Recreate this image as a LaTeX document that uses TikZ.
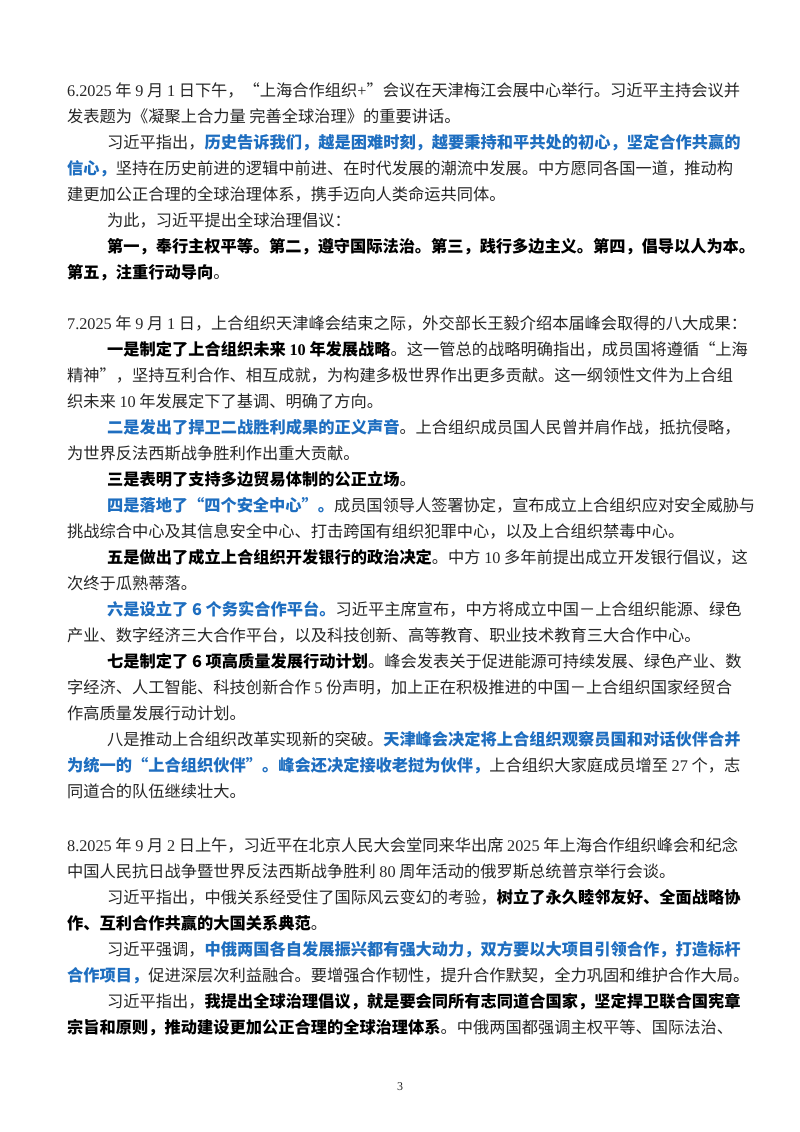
\documentclass[tikz,border=0pt]{standalone}
\usepackage{fontspec}
\setmainfont{Noto Sans CJK SC}
\newfontfamily\latn{Liberation Serif}
\definecolor{txt}{HTML}{262626}
\definecolor{hlblue}{HTML}{1E6EC0}
\newcommand\hb[1]{{\bfseries\color{hlblue}#1}}
\newcommand\kb[1]{{\bfseries\color{black}#1}}
\newcommand\nm[1]{{\latn #1}}
\tikzset{
  base/.style={anchor=base west, inner sep=0pt, font=\fontsize{16.3}{20}\selectfont, text=txt},
  full/.style={base, text width=688bp, align=justify},
  ind/.style={base, text width=648bp, align=justify},
  last/.style={base, align=left},
}
\begin{document}
\begin{tikzpicture}[x=1bp,y=-1bp]
\XeTeXlinebreaklocale "zh"
\XeTeXlinebreakskip=0pt plus 4pt minus 1pt
\useasboundingbox[fill=white] (0,0) rectangle (800,1132);
% section 6
\node[full] (a1) at (67,96) {\parfillskip=0pt \nm{6.2025} 年 \nm{9} 月 \nm{1} 日下午，“上海合作组织\nm{+}”会议在天津梅江会展中心举行。习近平主持会议并};
\node[last] (a2) at (67,122) {发表题为《凝聚上合力量\ 完善全球治理》的重要讲话。};
\node[ind] (a3) at (107,148) {\parfillskip=0pt 习近平指出，\hb{历史告诉我们，越是困难时刻，越要秉持和平共处的初心，坚定合作共赢的}};
\node[full] (a4) at (67,174) {\parfillskip=0pt \hb{信心，}坚持在历史前进的逻辑中前进、在时代发展的潮流中发展。中方愿同各国一道，推动构};
\node[last] (a5) at (67,200) {建更加公正合理的全球治理体系，携手迈向人类命运共同体。};
\node[last] (a6) at (107,226) {为此，习近平提出全球治理倡议：};
\node[ind] (a7) at (107,252) {\parfillskip=0pt \kb{第一，奉行主权平等。第二，遵守国际法治。第三，践行多边主义。第四，倡导以人为本。}};
\node[last] (a8) at (67,278) {\kb{第五，注重行动导向}。};
% section 7
\node[full] (b1) at (67,329) {\parfillskip=0pt \nm{7.2025} 年 \nm{9} 月 \nm{1} 日，上合组织天津峰会结束之际，外交部长王毅介绍本届峰会取得的八大成果：};
\node[ind] (b2) at (107,355) {\parfillskip=0pt \kb{一是制定了上合组织未来 \nm{10} 年发展战略}。这一管总的战略明确指出，成员国将遵循“上海};
\node[full] (b3) at (67,381) {\parfillskip=0pt 精神”，坚持互利合作、相互成就，为构建多极世界作出更多贡献。这一纲领性文件为上合组};
\node[last] (b4) at (67,407) {织未来 \nm{10} 年发展定下了基调、明确了方向。};
\node[ind] (b5) at (107,433) {\parfillskip=0pt \hb{二是发出了捍卫二战胜利成果的正义声音}。上合组织成员国人民曾并肩作战，抵抗侵略，};
\node[last] (b6) at (67,459) {为世界反法西斯战争胜利作出重大贡献。};
\node[last] (b7) at (107,485) {\kb{三是表明了支持多边贸易体制的公正立场}。};
\node[ind] (b8) at (107,511) {\parfillskip=0pt \hb{四是落地了“四个安全中心”。}成员国领导人签署协定，宣布成立上合组织应对安全威胁与};
\node[last] (b9) at (67,537) {挑战综合中心及其信息安全中心、打击跨国有组织犯罪中心，以及上合组织禁毒中心。};
\node[ind] (b10) at (107,563) {\parfillskip=0pt \kb{五是做出了成立上合组织开发银行的政治决定}。中方 \nm{10} 多年前提出成立开发银行倡议，这};
\node[last] (b11) at (67,589) {次终于瓜熟蒂落。};
\node[ind] (b12) at (107,615) {\parfillskip=0pt \hb{六是设立了 6 个务实合作平台。}习近平主席宣布，中方将成立中国－上合组织能源、绿色};
\node[last] (b13) at (67,641) {产业、数字经济三大合作平台，以及科技创新、高等教育、职业技术教育三大合作中心。};
\node[ind] (b14) at (107,667) {\parfillskip=0pt \kb{七是制定了 6 项高质量发展行动计划}。峰会发表关于促进能源可持续发展、绿色产业、数};
\node[full] (b15) at (67,693) {\parfillskip=0pt 字经济、人工智能、科技创新合作 \nm{5} 份声明，加上正在积极推进的中国－上合组织国家经贸合};
\node[last] (b16) at (67,719) {作高质量发展行动计划。};
\node[ind] (b17) at (107,745) {\parfillskip=0pt 八是推动上合组织改革实现新的突破。\hb{天津峰会决定将上合组织观察员国和对话伙伴合并}};
\node[full] (b18) at (67,771) {\parfillskip=0pt \hb{为统一的“上合组织伙伴”。峰会还决定接收老挝为伙伴，}上合组织大家庭成员增至 \nm{27} 个，志};
\node[last] (b19) at (67,797) {同道合的队伍继续壮大。};
% section 8
\node[full] (c1) at (67,851) {\parfillskip=0pt \nm{8.2025} 年 \nm{9} 月 \nm{2} 日上午，习近平在北京人民大会堂同来华出席 \nm{2025} 年上海合作组织峰会和纪念};
\node[last] (c2) at (67,877) {中国人民抗日战争暨世界反法西斯战争胜利 \nm{80} 周年活动的俄罗斯总统普京举行会谈。};
\node[ind] (c3) at (107,903) {\parfillskip=0pt 习近平指出，中俄关系经受住了国际风云变幻的考验，\kb{树立了永久睦邻友好、全面战略协}};
\node[last] (c4) at (67,929) {\kb{作、互利合作共赢的大国关系典范}。};
\node[ind] (c5) at (107,955) {\parfillskip=0pt 习近平强调，\hb{中俄两国各自发展振兴都有强大动力，双方要以大项目引领合作，打造标杆}};
\node[full] (c6) at (67,981) {\parfillskip=0pt \hb{合作项目，}促进深层次利益融合。要增强合作韧性，提升合作默契，全力巩固和维护合作大局。};
\node[ind] (c7) at (107,1007) {\parfillskip=0pt 习近平指出，\kb{我提出全球治理倡议，就是要会同所有志同道合国家，坚定捍卫联合国宪章}};
\node[full] (c8) at (67,1033) {\parfillskip=0pt \kb{宗旨和原则，推动建设更加公正合理的全球治理体系}。中俄两国都强调主权平等、国际法治、};
\node[base, anchor=base, font=\latn\fontsize{12}{14}\selectfont] (pg) at (400,1090) {3};
\end{tikzpicture}
\end{document}
